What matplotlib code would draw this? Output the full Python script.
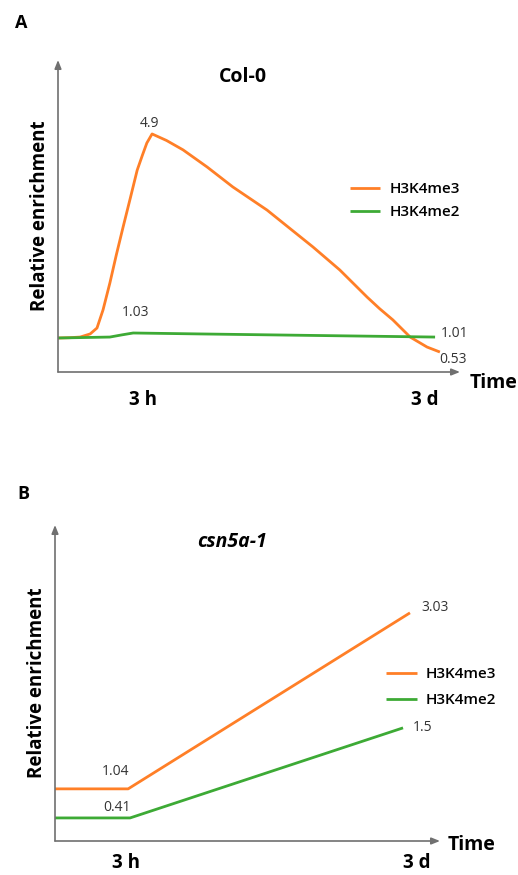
import matplotlib.pyplot as plt

# schematic levels (arbitrary units), x = time position 0..100
a_me3_x = [0, 3, 5.5, 8, 9.7, 11.2, 12.9, 14.5, 16.2, 18.0, 19.7, 21.0, 22.1, 23.4, 27.0, 31.1, 37.1,
           43.5, 52.0, 57.5, 63.4, 70.1, 76.9, 80.0, 83.3, 87.6, 91.8, 95.0]
a_me3_y = [10.9, 11.0, 11.2, 12.2, 14.1, 19.9, 28.5, 37.5, 46.5, 55.8, 64.7, 69.5, 73.4, 76.3, 74.2, 71.2, 65.7,
           59.3, 51.9, 46.2, 40.1, 32.7, 24.0, 20.3, 16.7, 11.2, 8.0, 6.4]
a_me2_x = [0, 12.9, 15.9, 18.7, 35.3, 93.8]
a_me2_y = [10.9, 11.2, 11.9, 12.5, 12.2, 11.2]

b_me3_x = [0, 19.0, 92.2]
b_me3_y = [16.5, 16.5, 72.2]
b_me2_x = [0, 19.5, 90.4]
b_me2_y = [7.3, 7.3, 35.8]

a_ticks = [21.1, 91.3]
b_ticks = [18.4, 94.0]
tick_labels = ["3 h", "3 d"]

# (which line, point index, text, offset in pixels)
a_labels = [("me3", 13, "4.9", (-3, 10)), ("me2", 3, "1.03", (2, 20)),
            ("me2", -1, "1.01", (20, 4)), ("me3", -1, "0.53", (13, -7))]
b_labels = [("me3", 1, "1.04", (-13, 17)), ("me2", 1, "0.41", (-13, 10)),
            ("me3", -1, "3.03", (25, 5)), ("me2", -1, "1.5", (20, 0))]

ORANGE = "#FF7F27"
GREEN = "#3DAA35"
AXC = "#707070"
FONT = "Open Sans"

fig = plt.figure(figsize=(5.18, 8.75), dpi=100)
axA = fig.add_axes([58/518, 1-372/875, 402/518, 312/875])
axB = fig.add_axes([55/518, 1-841/875, 385/518, 316/875])


def panel(ax, x3, y3, x2, y2, ticks, labels, title, italic, leg_xy, leg_sp, time_xy, tpad):
    l3, = ax.plot(x3, y3, color=ORANGE, lw=2, solid_joinstyle="round", solid_capstyle="butt", label="H3K4me3")
    l2, = ax.plot(x2, y2, color=GREEN, lw=2, solid_joinstyle="round", solid_capstyle="butt", label="H3K4me2")
    ax.set_xlim(0, 100)
    ax.set_ylim(0, 100)
    for s in ax.spines.values():
        s.set_visible(False)
    ax.annotate("", xy=(0, 1), xytext=(0, 0), xycoords="axes fraction",
                arrowprops=dict(arrowstyle="-|>,head_length=0.5,head_width=0.2", color=AXC, lw=1.2,
                                shrinkA=0, shrinkB=0))
    ax.annotate("", xy=(1, 0), xytext=(0, 0), xycoords="axes fraction",
                arrowprops=dict(arrowstyle="-|>,head_length=0.5,head_width=0.2", color=AXC, lw=1.2,
                                shrinkA=0, shrinkB=0))
    ax.set_yticks([])
    ax.set_xticks(ticks)
    ax.set_xticklabels(labels, fontsize=13.5, fontweight="bold", family=FONT)
    ax.tick_params(axis="x", length=0, pad=tpad)
    ax.set_ylabel("Relative enrichment", fontsize=13.5, fontweight="bold", family=FONT, labelpad=6)
    ax.text(46, 94.6, title, ha="center", va="center", fontsize=14, fontweight="bold",
            style="italic" if italic else "normal", family=FONT)
    ax.text(time_xy[0], time_xy[1], "Time", transform=ax.transAxes, ha="left", va="center",
            fontsize=14, fontweight="bold", family=FONT)
    ax.legend(handles=[l3, l2], loc="upper left", bbox_to_anchor=leg_xy, frameon=False,
              prop=dict(family=FONT, size=11, weight="semibold"), handlelength=2.0,
              handletextpad=0.6, borderpad=0, borderaxespad=0, labelspacing=leg_sp)
    return {"me3": (x3, y3), "me2": (x2, y2)}


dA = panel(axA, a_me3_x, a_me3_y, a_me2_x, a_me2_y, a_ticks, tick_labels, "Col-0", False,
           (0.726, 0.608), 0.6, (1.025, -0.035), 13)
dB = panel(axB, b_me3_x, b_me3_y, b_me2_x, b_me2_y, b_ticks, tick_labels, "csn5a-1", True,
           (0.86, 0.551), 0.8, (1.021, -0.013), 9)

for ax, d, labs in [(axA, dA, a_labels), (axB, dB, b_labels)]:
    for key, i, txt, off in labs:
        xs, ys = d[key]
        ax.annotate(txt, xy=(xs[i], ys[i]), xytext=off, textcoords="offset pixels",
                    ha="center", va="center", fontsize=10, color="#333333", family=FONT)

fig.text(21/518, 1-23/875, "A", ha="center", va="center", fontsize=13, fontweight="bold", family=FONT)
fig.text(23/518, 1-494/875, "B", ha="center", va="center", fontsize=13, fontweight="bold", family=FONT)

fig.savefig("out.png", dpi=100)
